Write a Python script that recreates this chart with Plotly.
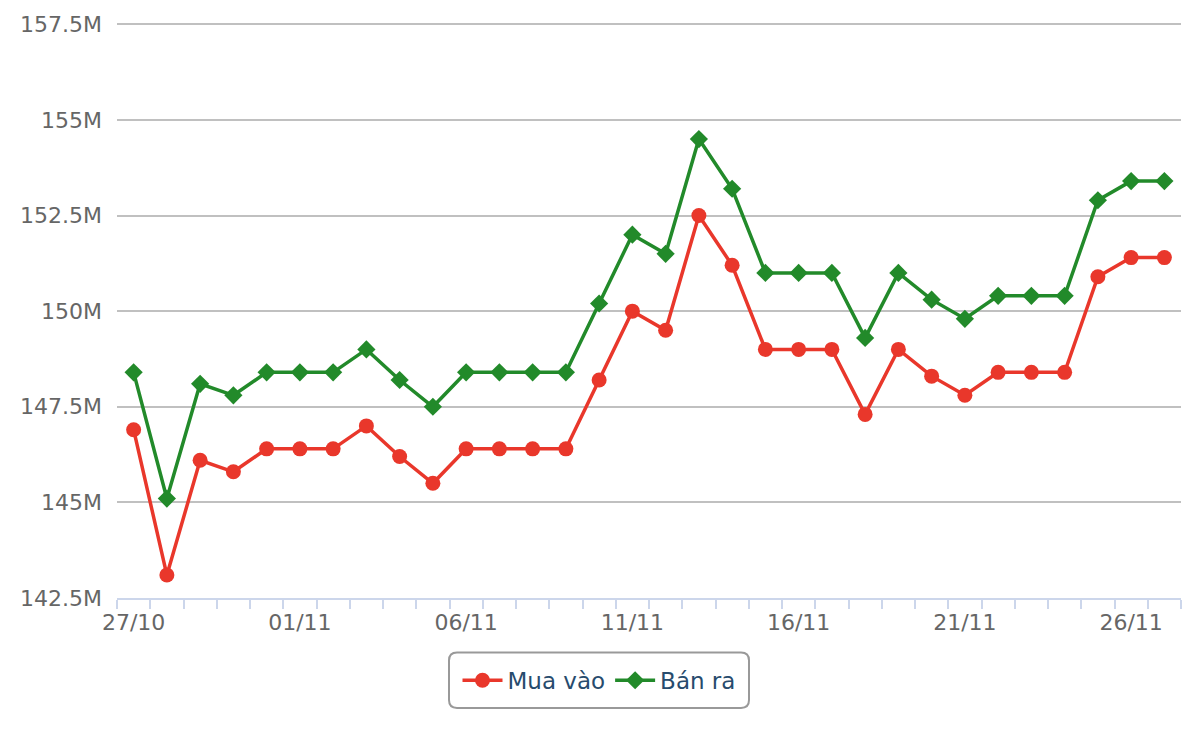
import plotly.graph_objects as go

dates = ["27/10","28/10","29/10","30/10","31/10","01/11","02/11","03/11","04/11","05/11",
         "06/11","07/11","08/11","09/11","10/11","11/11","12/11","13/11","14/11","15/11",
         "16/11","17/11","18/11","19/11","20/11","21/11","22/11","23/11","24/11","25/11",
         "26/11","27/11"]
mua_vao = [146.9,143.1,146.1,145.8,146.4,146.4,146.4,147.0,146.2,145.5,
           146.4,146.4,146.4,146.4,148.2,150.0,149.5,152.5,151.2,149.0,
           149.0,149.0,147.3,149.0,148.3,147.8,148.4,148.4,148.4,150.9,
           151.4,151.4]
ban_ra = [148.4,145.1,148.1,147.8,148.4,148.4,148.4,149.0,148.2,147.5,
          148.4,148.4,148.4,148.4,150.2,152.0,151.5,154.5,153.2,151.0,
          151.0,151.0,149.3,151.0,150.3,149.8,150.4,150.4,150.4,152.9,
          153.4,153.4]
y_ticks = [142.5,145,147.5,150,152.5,155,157.5]
y_labels = ["142.5M","145M","147.5M","150M","152.5M","155M","157.5M"]

xs = list(range(len(dates)))
label_idx = [i for i in xs if i % 5 == 0]

fig = go.Figure()
fig.add_trace(go.Scatter(x=xs, y=mua_vao, name="Mua vào", mode="lines+markers",
                         line=dict(color="#e9372b", width=3.5),
                         marker=dict(symbol="circle", size=15, color="#e9372b")))
fig.add_trace(go.Scatter(x=xs, y=ban_ra, name="Bán ra", mode="lines+markers",
                         line=dict(color="#228a2a", width=3.5),
                         marker=dict(symbol="diamond", size=14, color="#228a2a")))

L, R, T, B = 117, 19, 17, 142
W, H = 1200, 740
pw = W - L - R
ph = H - T - B
def px(x): return (x - L) / pw
def py(y): return (H - B - y) / ph

x0, x1, y0, y1 = px(449), px(749), py(709), py(653)
rx, ry = 8 / pw, 8 / ph
path = (f"M {x0+rx},{y0} L {x1-rx},{y0} Q {x1},{y0} {x1},{y0+ry} "
        f"L {x1},{y1-ry} Q {x1},{y1} {x1-rx},{y1} L {x0+rx},{y1} "
        f"Q {x0},{y1} {x0},{y1-ry} L {x0},{y0+ry} Q {x0},{y0} {x0+rx},{y0} Z")
fig.add_shape(type="path", path=path, xref="paper", yref="paper",
              line=dict(color="#999999", width=2), fillcolor="rgba(0,0,0,0)")

fig.update_layout(
    width=W, height=H,
    margin=dict(l=L, r=R, t=T, b=B),
    paper_bgcolor="white", plot_bgcolor="white",
    font=dict(family="DejaVu Sans", size=22, color="#666666"),
    showlegend=True,
    legend=dict(orientation="h", x=px(599), xanchor="center", y=py(681), yanchor="middle",
                font=dict(size=23, color="#274b6d"), bgcolor="rgba(0,0,0,0)",
                itemwidth=40),
    xaxis=dict(range=[-0.5, len(dates) - 0.5], tickvals=label_idx,
               ticktext=[dates[i] for i in label_idx], ticks="", showgrid=False,
               showline=True, linecolor="#ccd6eb", linewidth=2, zeroline=False,
               tickfont=dict(size=22, color="#666666"), ticklabelstandoff=4,
               minor=dict(ticks="outside", tick0=-0.5, dtick=1, ticklen=9,
                          tickcolor="#ccd6eb", tickwidth=2, showgrid=False)),
    yaxis=dict(range=[142.5, 157.56], tickvals=y_ticks, ticktext=y_labels,
               showgrid=True, gridcolor="#c0c0c0", gridwidth=2, zeroline=False,
               showline=False, ticks="", ticklabelstandoff=14,
               tickfont=dict(size=22, color="#666666")),
)
fig.write_html("out.html")
